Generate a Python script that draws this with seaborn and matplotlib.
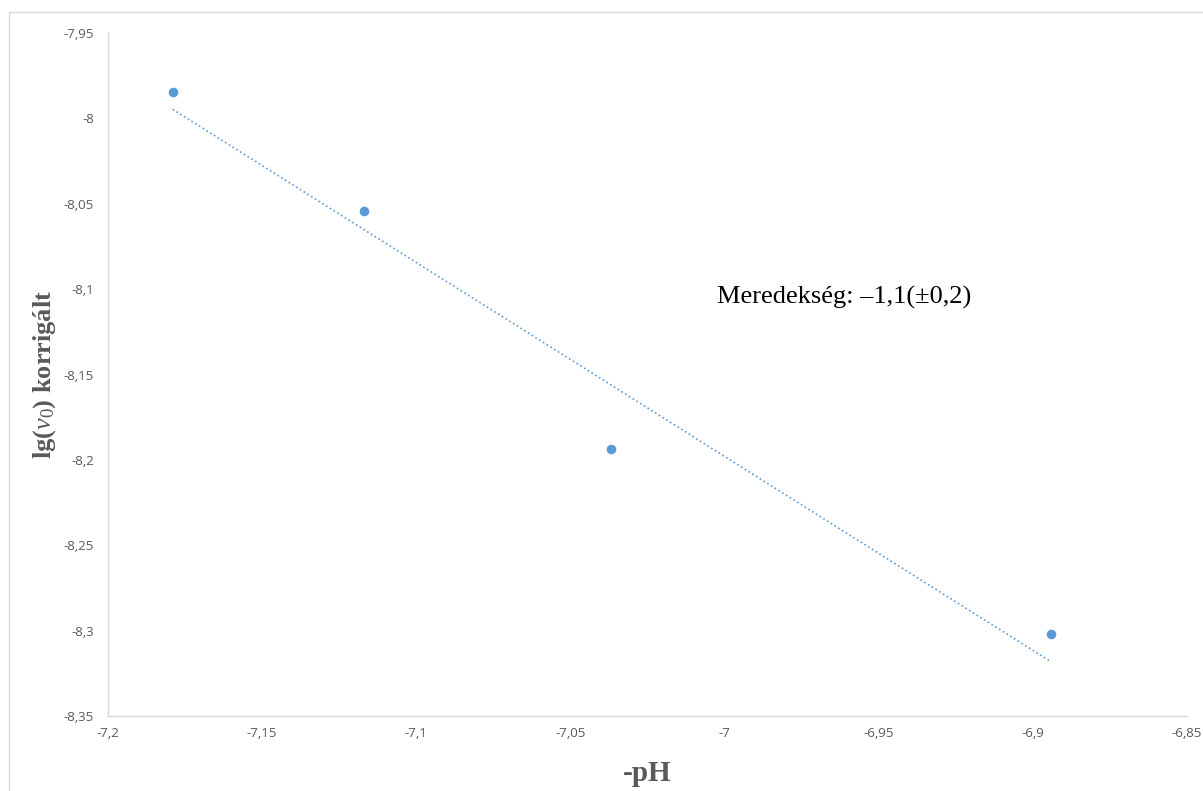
import matplotlib
matplotlib.use("Agg")
import matplotlib.pyplot as plt
import seaborn as sns
import pandas as pd
from matplotlib.patches import Rectangle

# Data
neg_pH = [-7.179, -7.117, -7.037, -6.894]
lg_v0 = [-7.9845, -8.054, -8.1936, -8.302]
x_ticks = [-7.2, -7.15, -7.1, -7.05, -7.0, -6.95, -6.9, -6.85]
y_ticks = [-7.95, -8.0, -8.05, -8.1, -8.15, -8.2, -8.25, -8.3, -8.35]
slope_text = "Meredekség: –1,1(±0,2)"

df = pd.DataFrame({"x": neg_pH, "y": lg_v0})

sns.set_theme(style="white")
plt.rcParams["mathtext.fontset"] = "custom"
plt.rcParams["mathtext.it"] = "Liberation Serif:italic"
plt.rcParams["mathtext.rm"] = "Liberation Serif"

color = "#5b9bd5"
fig = plt.figure(figsize=(12.03, 7.91), dpi=100)
fig.patches.append(Rectangle((9 / 1203, -0.1), 1.2, 1.1 - 12 / 791,
                             transform=fig.transFigure, fill=False,
                             edgecolor="#d9d9d9", linewidth=1.0))
ax = fig.add_axes([108 / 1203, 75 / 791, (1187 - 108) / 1203, (716 - 33) / 791])

sns.regplot(data=df, x="x", y="y", ax=ax, scatter=False, ci=None, truncate=True,
            line_kws=dict(color=color, linestyle=":", linewidth=1.2))
sns.scatterplot(data=df, x="x", y="y", ax=ax, color=color, s=48,
                edgecolor=color, linewidth=0, zorder=3)

ax.set_xlim(-7.2, -6.85)
ax.set_ylim(-8.35, -7.95)
ax.set_xticks(x_ticks)
ax.set_yticks(y_ticks)

def fmt(v):
    s = f"{v:.2f}".rstrip("0").rstrip(".")
    return s.replace(".", ",")

ax.set_xticklabels([fmt(v) for v in x_ticks], fontsize=9.5, color="#595959",
                   family="Open Sans")
ax.set_yticklabels([fmt(v) for v in y_ticks], fontsize=9.5, color="#595959",
                   family="Open Sans")
ax.tick_params(axis="x", length=0, pad=8)
ax.tick_params(axis="y", length=0, pad=10)

for s in ["top", "right"]:
    ax.spines[s].set_visible(False)
for s in ["left", "bottom"]:
    ax.spines[s].set_color("#d9d9d9")
    ax.spines[s].set_linewidth(1.0)
ax.grid(False)

ax.set_xlabel("-pH", fontsize=21, fontweight="bold", color="#595959",
              family="Liberation Serif", labelpad=10)
ax.xaxis.set_label_coords(0.5, -44 / 683)
ax.set_ylabel(r"lg($\mathit{v}_{\mathit{0}}$) korrigált", fontsize=19, fontweight="bold",
              color="#595959", family="Liberation Serif", labelpad=10)
ax.yaxis.set_label_coords(-50 / 1079, 0.5)

ax.text(-7.0024, -8.1046, slope_text, fontsize=19, color="black",
        family="Liberation Serif", ha="left", va="center")

fig.savefig("out.png", dpi=100)
